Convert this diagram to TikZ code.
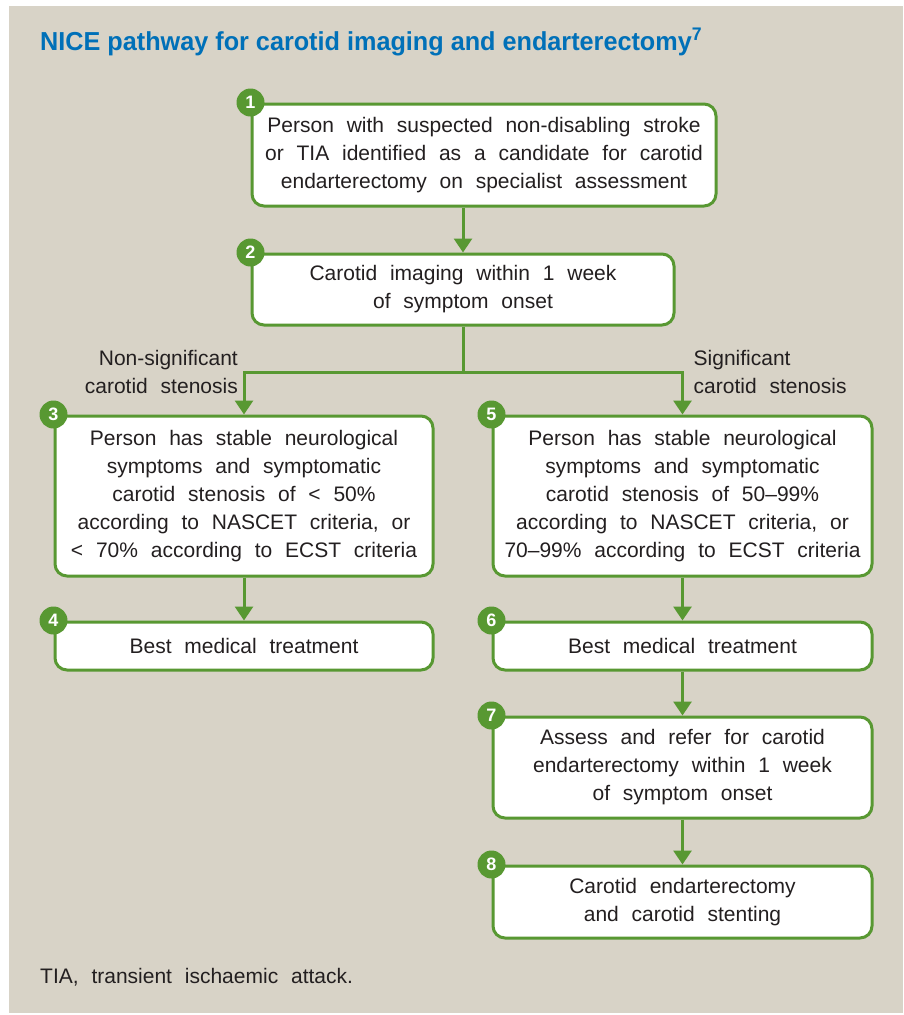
\documentclass[tikz,border=0pt]{standalone}
\usepackage{fontspec}
\setmainfont{Liberation Sans}[WordSpace=2.2]
\newfontfamily\titlefont{Liberation Sans}[FakeStretch=0.97]
\usepackage{tikz}
\usetikzlibrary{arrows.meta, positioning, calc}
\definecolor{nicegreen}{RGB}{88,152,50}
\definecolor{niceblue}{RGB}{0,112,184}
\definecolor{panel}{RGB}{216,211,199}
\definecolor{ink}{RGB}{35,31,32}

\begin{document}
\begin{tikzpicture}[x=1pt, y=-1pt,
                box/.style={draw=nicegreen, line width=3pt, fill=white, rounded corners=12pt, align=center, text=ink, font=\fontsize{21}{28}\selectfont, inner sep=0pt}, % One step of the pathway
                badge/.style={circle, fill=nicegreen, text=white, minimum size=28pt, inner sep=0pt, font=\fontsize{18}{18}\selectfont\bfseries}, % Step number
                arrow/.style={draw=nicegreen, line width=3pt, -{Triangle[width=18pt,length=14pt]}}, % Connector with head
                link/.style={draw=nicegreen, line width=3pt}, % Connector without head
                lbl/.style={text=ink, font=\fontsize{21}{28}\selectfont} % Free text
                ]
                \useasboundingbox (0,0) rectangle (903,1015);
                \fill[panel] (9,6) rectangle (903,1013);

                \node[anchor=base west, inner sep=0pt, text=niceblue, font=\titlefont\fontsize{26}{30}\selectfont\bfseries] (title) at (40,50) {NICE pathway for carotid imaging and endarterectomy\textsuperscript{7}};

                \node[box, minimum width=464pt, minimum height=102pt] (step1) at (484,155) {Person with suspected non-disabling stroke\\or TIA identified as a candidate for carotid\\endarterectomy on specialist assessment};
                \node[box, minimum width=422pt, minimum height=71pt] (step2) at (463,289.5) {Carotid imaging within 1 week\\of symptom onset};
                \node[box, minimum width=378pt, minimum height=160pt] (step3) at (244,496) {Person has stable neurological\\symptoms and symptomatic\\carotid stenosis of < 50\%\\according to NASCET criteria, or\\< 70\% according to ECST criteria};
                \node[box, minimum width=378pt, minimum height=48pt] (step4) at (244,646) {Best medical treatment};
                \node[box, minimum width=379pt, minimum height=160pt] (step5) at (682.5,496) {Person has stable neurological\\symptoms and symptomatic\\carotid stenosis of 50--99\%\\according to NASCET criteria, or\\70--99\% according to ECST criteria};
                \node[box, minimum width=379pt, minimum height=48pt] (step6) at (682.5,646) {Best medical treatment};
                \node[box, minimum width=379pt, minimum height=101pt] (step7) at (682.5,767.5) {Assess and refer for carotid\\endarterectomy within 1 week\\of symptom onset};
                \node[box, minimum width=379pt, minimum height=72pt] (step8) at (682.5,902) {Carotid endarterectomy\\and carotid stenting};

                \foreach \n in {1,...,8}
                    \node[badge] (badge\n) at (step\n.north west) {\n};

                \coordinate (split) at ($(step2.south)+(0,46)$);
                \coordinate (splitL) at (split -| step3.north);
                \coordinate (splitR) at (split -| step5.north);

                \draw[arrow] (step2.north |- step1.south) -- (step2.north);
                \draw[link] (step2.south) -- (split);
                \draw[arrow] (split) -- (splitL) -- (step3.north);
                \draw[arrow] (split) -- (splitR) -- (step5.north);
                \draw[arrow] (step3) -- (step4);
                \draw[arrow] (step5) -- (step6);
                \draw[arrow] (step6) -- (step7);
                \draw[arrow] (step7) -- (step8);

                \node[lbl, align=right, anchor=east, inner sep=0pt] (nonsig) at ($(splitL)+(-6,-1)$) {Non-significant\\carotid stenosis};
                \node[lbl, align=left, anchor=west, inner sep=0pt] (sig) at ($(splitR)+(11,-1)$) {Significant\\carotid stenosis};

                \node[lbl, anchor=base west, inner sep=0pt] (note) at (40,983) {TIA, transient ischaemic attack.};
            \end{tikzpicture}
\end{document}
